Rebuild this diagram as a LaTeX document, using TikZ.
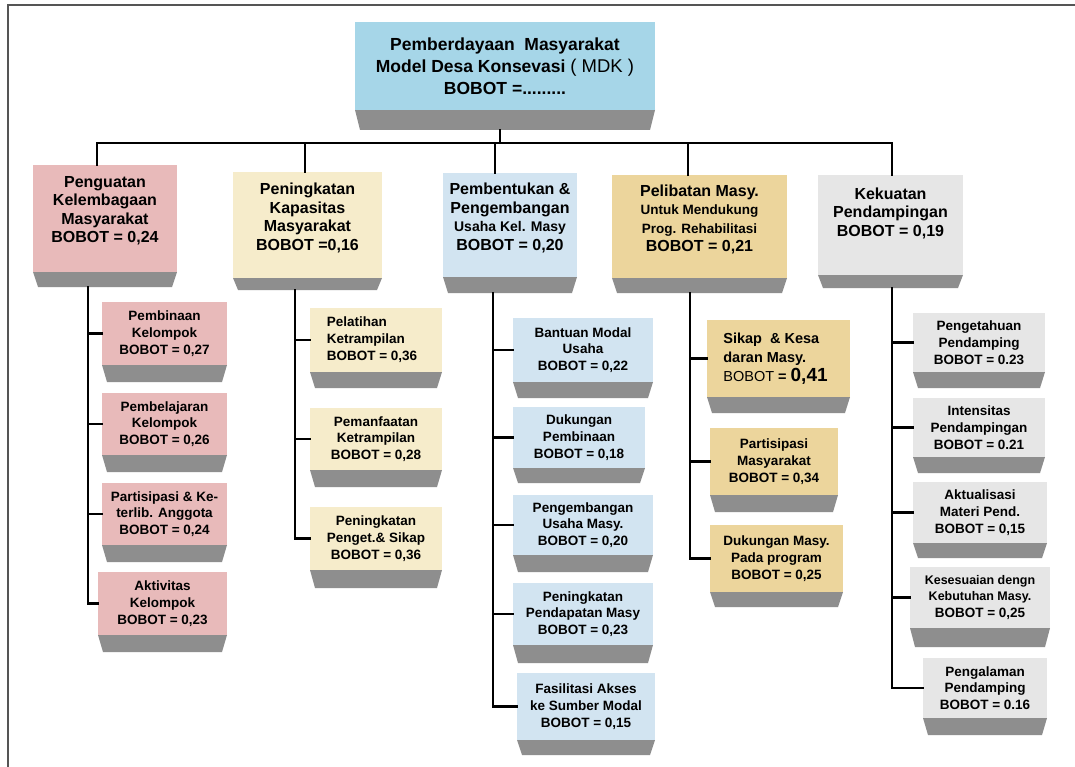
\documentclass[tikz,border=0pt]{standalone}
\usepackage{fontspec}
\setmainfont{Liberation Sans}
\definecolor{topf}{HTML}{A6D6E8}
\definecolor{pinkf}{HTML}{E8BABA}
\definecolor{creamf}{HTML}{F6ECCB}
\definecolor{bluef}{HTML}{D2E4F1}
\definecolor{goldf}{HTML}{ECD59C}
\definecolor{greyf}{HTML}{E6E6E6}
\definecolor{slabc}{HTML}{8E8E8E}
\definecolor{framec}{HTML}{555555}
\newcommand\hf{\fontsize{16}{18.5}\selectfont}
\newcommand\cf{\fontsize{13.5}{16.7}\selectfont}
\newcommand\tf{\fontsize{17.5}{22}\selectfont}
\tikzset{
  face/.style={rectangle, draw=none, inner sep=0pt, outer sep=0pt},
  txt/.style={align=center, inner sep=0pt, font=\bfseries\cf},
  head/.style={font=\bfseries\hf, yshift=8pt},
  ttl/.style={font=\bfseries\tf},
  slab/.style={fill=slabc},
  conn/.style={line width=2.6pt, black, line cap=rect},
}
\newcommand\lbox[1]{\begin{tabular}{@{}l@{}}#1\end{tabular}}
% name, x1, y1, x2, y2 (face bottom), y3 (slab bottom), colour, text options, text
\newcommand\bx[9]{%
  \fill[slab] (#2,#5) -- (#4,#5) -- ({(#4)-5},#6) -- ({(#2)+5},#6) -- cycle;
  \node[face, fill=#7, minimum width={(#4)-(#2)}, minimum height={(#5)-(#3)}]
    (#1) at ({((#2)+(#4))/2},{((#3)+(#5))/2}) {};
  \node[txt, #8] (#1t) at (#1.center) {#9};
}
\begin{document}
\begin{tikzpicture}[x=1pt,y=-1pt]
\useasboundingbox (0,0) rectangle (1075,767);
\fill[white] (0,0) rectangle (1075,767);
\draw[framec, line width=1.2pt] (8,767) -- (8,5) -- (1075,5);

% top node
\bx{top}{355}{22}{655}{110}{130}{topf}{ttl}{Pemberdayaan\ \ Masyarakat\\
  Model Desa Konsevasi {\mdseries\fontsize{18.5}{22}\selectfont ( MDK )}\\
  BOBOT =.........}

% headers
\bx{h1}{33}{165}{177}{272}{287}{pinkf}{head}{Penguatan\\ Kelembagaan\\ Masyarakat\\ BOBOT = 0,24}
\bx{h2}{233}{172}{382}{278}{290}{creamf}{head, yshift=-1pt}{Peningkatan\\ Kapasitas\\ Masyarakat\\ BOBOT =0,16}
\bx{h3}{443}{173}{577}{277}{293}{bluef}{head, yshift=-1pt}{Pembentukan \&\\ Pengembangan\\ {\fontsize{14}{18.5}\selectfont Usaha Kel. Masy}\\ BOBOT = 0,20}
\bx{h4}{612}{175}{787}{278}{293}{goldf}{head, yshift=-1pt}{Pelibatan Masy.\\ {\fontsize{13.5}{18}\selectfont Untuk Mendukung}\\ {\fontsize{13.5}{18}\selectfont Prog. Rehabilitasi}\\ BOBOT = 0,21}
\bx{h5}{818}{175}{963}{275}{288}{greyf}{head, yshift=4pt}{Kekuatan\\ Pendampingan\\ BOBOT = 0,19}

% column 1
\bx{c11}{102}{302}{227}{365}{382}{pinkf}{}{Pembinaan\\ Kelompok\\ BOBOT = 0,27}
\bx{c12}{102}{393}{227}{455}{472}{pinkf}{}{Pembelajaran\\ Kelompok\\ BOBOT = 0,26}
\bx{c13}{102}{483}{227}{545}{562}{pinkf}{}{Partisipasi \& Ke-\\ terlib. Anggota\\ BOBOT = 0,24}
\bx{c14}{98}{572}{227}{635}{652}{pinkf}{}{Aktivitas\\ Kelompok\\ BOBOT = 0,23}

% column 2
\bx{c21}{310}{308}{442}{372}{388}{creamf}{xshift=-4pt}{\lbox{Pelatihan\\ Ketrampilan\\ BOBOT = 0,36}}
\bx{c22}{310}{408}{442}{470}{487}{creamf}{}{Pemanfaatan\\ Ketrampilan\\ BOBOT = 0,28}
\bx{c23}{310}{507}{442}{570}{588}{creamf}{}{Peningkatan\\ Penget.\& Sikap\\ BOBOT = 0,36}

% column 3
\bx{c31}{513}{318}{653}{382}{398}{bluef}{}{Bantuan Modal\\ Usaha\\ BOBOT = 0,22}
\bx{c32}{513}{407}{645}{468}{483}{bluef}{}{Dukungan\\ Pembinaan\\ BOBOT = 0,18}
\bx{c33}{513}{495}{653}{555}{572}{bluef}{}{Pengembangan\\ Usaha Masy.\\ BOBOT = 0,20}
\bx{c34}{513}{583}{653}{645}{663}{bluef}{}{Peningkatan\\ Pendapatan Masy\\ BOBOT = 0,23}
\bx{c35}{517}{673}{655}{740}{755}{bluef}{}{Fasilitasi Akses\\ ke Sumber Modal\\ BOBOT = 0,15}

% column 4
\bx{c41}{707}{320}{850}{397}{413}{goldf}{font=\bfseries\fontsize{14.5}{19}\selectfont, xshift=-3pt}{\lbox{Sikap\ \ \& Kesa\\ daran Masy.\\ {\mdseries BOBOT} = {\fontsize{19}{19}\selectfont 0,41}}}
\bx{c42}{710}{428}{838}{495}{512}{goldf}{}{Partisipasi\\ Masyarakat\\ BOBOT = 0,34}
\bx{c43}{710}{525}{843}{592}{607}{goldf}{}{Dukungan Masy.\\ Pada program\\ BOBOT = 0,25}

% column 5
\bx{c51}{913}{313}{1045}{372}{388}{greyf}{}{Pengetahuan\\ Pendamping\\ BOBOT = 0.23}
\bx{c52}{913}{398}{1045}{457}{473}{greyf}{}{Intensitas\\ Pendampingan\\ BOBOT = 0.21}
\bx{c53}{913}{482}{1047}{543}{558}{greyf}{}{Aktualisasi\\ Materi Pend.\\ BOBOT = 0,15}
\bx{c54}{910}{567}{1050}{628}{647}{greyf}{}{{\fontsize{12.5}{16.5}\selectfont Kesesuaian dengn}\\ {\fontsize{12.5}{16.5}\selectfont Kebutuhan Masy.}\\ BOBOT = 0,25}
\bx{c55}{923}{658}{1047}{718}{735}{greyf}{}{Pengalaman\\ Pendamping\\ BOBOT = 0.16}

% bus and stems
\coordinate (busL) at (97,143);
\coordinate (busR) at (892,143);
\coordinate (topstem) at (500,130);
\draw[conn] (busL) -- (busR);
\draw[conn] (topstem) -- (topstem |- busL);
\draw[conn] ([xshift=-8pt]h1.north) -- ([xshift=-8pt]h1.north |- busL);
\draw[conn] ([xshift=-2.5pt]h2.north) -- ([xshift=-2.5pt]h2.north |- busL);
\draw[conn] ([xshift=-15pt]h3.north) -- ([xshift=-15pt]h3.north |- busL);
\draw[conn] ([xshift=-11.5pt]h4.north) -- ([xshift=-11.5pt]h4.north |- busL);
\draw[conn] ([xshift=1.5pt]h5.north) -- ([xshift=1.5pt]h5.north |- busL);

% spines
\coordinate (s1) at (88,287);
\coordinate (s2) at (295,290);
\coordinate (s3) at (493,293);
\coordinate (s4) at (690,293);
\coordinate (s5) at (892,288);
\draw[conn] (s1) |- (c14.west);
\foreach \c in {c11,c12,c13} \draw[conn] (\c.west) -- (\c.west -| s1);
\draw[conn] (s2) |- (c23.west);
\foreach \c in {c21,c22} \draw[conn] (\c.west) -- (\c.west -| s2);
\draw[conn] (s3) |- (c35.west);
\foreach \c in {c31,c32,c33,c34} \draw[conn] (\c.west) -- (\c.west -| s3);
\draw[conn] (s4) |- (c43.west);
\foreach \c in {c41,c42} \draw[conn] (\c.west) -- (\c.west -| s4);
\draw[conn] (s5) |- (c55.west);
\foreach \c in {c51,c52,c53,c54} \draw[conn] (\c.west) -- (\c.west -| s5);
\end{tikzpicture}
\end{document}
